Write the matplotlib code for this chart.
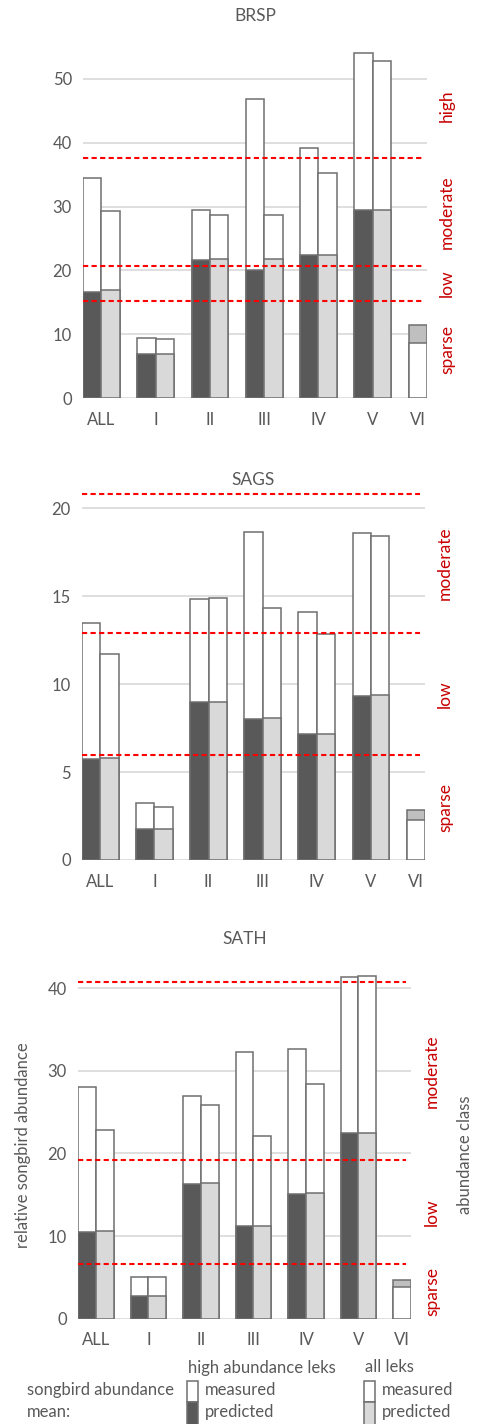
import numpy as np
import matplotlib
matplotlib.use("Agg")
import matplotlib.pyplot as plt
from matplotlib.patches import Rectangle

plt.rcParams["font.family"] = ["Lato", "DejaVu Sans"]

categories = ["ALL", "I", "II", "III", "IV", "V", "VI"]
nan = np.nan

brsp_high_measured = [34.4, 9.5, 29.5, 46.8, 39.1, 54.0, nan]
brsp_high_predicted = [16.7, 6.9, 21.7, 20.0, 22.4, 29.4, nan]
brsp_all_measured = [29.3, 9.3, 28.6, 28.6, 35.3, 52.7, 8.6]
brsp_all_predicted = [16.9, 6.9, 21.8, 21.8, 22.4, 29.5, 11.4]
brsp_limits = [15.3, 20.75, 37.6]
brsp_classes = ["sparse", "low", "moderate", "high"]

sags_high_measured = [13.5, 3.22, 14.82, 18.67, 14.1, 18.58, nan]
sags_high_predicted = [5.74, 1.76, 8.99, 8.04, 7.17, 9.35, nan]
sags_all_measured = [11.7, 3.01, 14.9, 14.35, 12.83, 18.45, 2.27]
sags_all_predicted = [5.78, 1.76, 8.99, 8.08, 7.15, 9.4, 2.86]
sags_limits = [5.99, 12.91, 20.83]
sags_classes = ["sparse", "low", "moderate"]

sath_high_measured = [28.05, 4.99, 27.0, 32.3, 32.7, 41.4, nan]
sath_high_predicted = [10.49, 2.69, 16.3, 11.25, 15.1, 22.5, nan]
sath_all_measured = [22.8, 4.99, 25.9, 22.1, 28.4, 41.5, 3.8]
sath_all_predicted = [10.6, 2.69, 16.4, 11.2, 15.2, 22.5, 4.7]
sath_limits = [6.6, 19.2, 40.8]
sath_classes = ["sparse", "low", "moderate"]

W, H = 478, 1424
TEXT = "#595959"
RED_LINE = "#FF0000"
RED_TEXT = "#C80000"
DARK = "#595959"
LIGHT = "#D9D9D9"
SINGLE = "#BFBFBF"
EDGE = "#6F6F6F"
BAR_W = 0.34
FS = 12


def px_rect(x0, x1, y_zero, ppu, top):
    """Axes rectangle in figure fractions from pixel geometry."""
    height = top * ppu
    return [x0 / W, 1 - y_zero / H, (x1 - x0) / W, height / H]


def draw_bar(ax, x, measured, predicted, color):
    """Draw overlapping measured / predicted bars, taller one behind."""
    if np.isnan(measured):
        return
    pairs = [(measured, "white"), (predicted, color)]
    pairs.sort(key=lambda p: -p[0])
    for val, col in pairs:
        ax.bar(x, val, width=BAR_W, color=col, edgecolor=EDGE,
               linewidth=1.1, align="edge", zorder=3)


def draw_panel(fig, rect, title, title_y, top, step, high_m, high_p,
               all_m, all_p, limits, classes, label_x):
    ax = fig.add_axes(rect)
    n = len(categories)
    ticks = []
    for i in range(n):
        if np.isnan(high_m[i]):
            draw_bar(ax, i - BAR_W, all_m[i], all_p[i], SINGLE)
            ticks.append(i - BAR_W / 2)
        else:
            draw_bar(ax, i - BAR_W, high_m[i], high_p[i], DARK)
            draw_bar(ax, i, all_m[i], all_p[i], LIGHT)
            ticks.append(i)
    ax.set_xlim(-BAR_W, n - 1)
    ax.set_ylim(0, top)
    ax.set_yticks(np.arange(0, top, step))
    ax.set_xticks(ticks)
    ax.set_xticklabels(categories)
    ax.tick_params(length=0, labelsize=FS, colors=TEXT)
    ax.tick_params(axis="y", pad=8)
    ax.tick_params(axis="x", pad=10)
    ax.grid(axis="y", color=LIGHT, linewidth=1.2, zorder=0)
    ax.set_axisbelow(True)
    for s in ax.spines.values():
        s.set_visible(False)

    for lim in limits:
        ax.axhline(lim, xmin=0, xmax=0.985, color=RED_LINE, linewidth=1.5,
                   linestyle=(0, (2.5, 1.6)), zorder=5)

    highest = np.nanmax(np.concatenate([high_m, all_m, all_p]))
    bounds = [0] + list(limits) + [highest]
    for k, name in enumerate(classes):
        mid = (bounds[k] + bounds[k + 1]) / 2
        ax.text(label_x, mid, name, rotation=90, color=RED_TEXT,
                fontsize=FS + 0.5, ha="center", va="center",
                transform=ax.get_yaxis_transform())

    cx = (rect[0] + rect[2] / 2)
    fig.text(cx, 1 - title_y / H, title, ha="center", va="center",
             fontsize=FS + 0.5, color=TEXT)
    return ax


fig = plt.figure(figsize=(W / 100, H / 100), dpi=100)

draw_panel(fig, px_rect(83, 427, 398.3, 6.392, 56), "BRSP", 16, 56, 10,
           brsp_high_measured, brsp_high_predicted,
           brsp_all_measured, brsp_all_predicted,
           brsp_limits, brsp_classes, 1.058)
draw_panel(fig, px_rect(82, 425, 860, 17.585, 21.5), "SAGS", 480, 21.5, 5,
           sags_high_measured, sags_high_predicted,
           sags_all_measured, sags_all_predicted,
           sags_limits, sags_classes, 1.058)
draw_panel(fig, px_rect(78, 411, 1318.6, 8.257, 43), "SATH", 939, 43, 10,
           sath_high_measured, sath_high_predicted,
           sath_all_measured, sath_all_predicted,
           sath_limits, sath_classes, 1.063)

# axis titles
fig.text(23 / W, 1 - 1145 / H, "relative songbird abundance", rotation=90,
         ha="center", va="center", fontsize=FS, color=TEXT)
fig.text(465 / W, 1 - 1155 / H, "abundance class", rotation=90,
         ha="center", va="center", fontsize=FS, color=TEXT)

# legend
fig.text(188 / W, 1 - 1368 / H, "high abundance leks", ha="left",
         va="center", fontsize=FS, color=TEXT)
fig.text(365 / W, 1 - 1367 / H, "all leks", ha="left", va="center",
         fontsize=FS, color=TEXT)
fig.text(27 / W, 1 - 1390 / H, "songbird abundance", ha="left",
         va="center", fontsize=FS, color=TEXT)
fig.text(27 / W, 1 - 1412 / H, "mean:", ha="left", va="center",
         fontsize=FS, color=TEXT)
for x0, col in [(187, DARK), (364, LIGHT)]:
    fig.add_artist(Rectangle((x0 / W, 1 - 1402 / H), 11 / W, 21 / H,
                             facecolor="white", edgecolor=EDGE,
                             linewidth=1.1, transform=fig.transFigure))
    fig.add_artist(Rectangle((x0 / W, 1 - 1426 / H), 11 / W, 24 / H,
                             facecolor=col, edgecolor=EDGE,
                             linewidth=1.1, transform=fig.transFigure))
    fig.text((x0 + 18) / W, 1 - 1390 / H, "measured", ha="left",
             va="center", fontsize=FS, color=TEXT)
    fig.text((x0 + 18) / W, 1 - 1412 / H, "predicted", ha="left",
             va="center", fontsize=FS, color=TEXT)

fig.savefig("out.png", dpi=100, facecolor="white")
